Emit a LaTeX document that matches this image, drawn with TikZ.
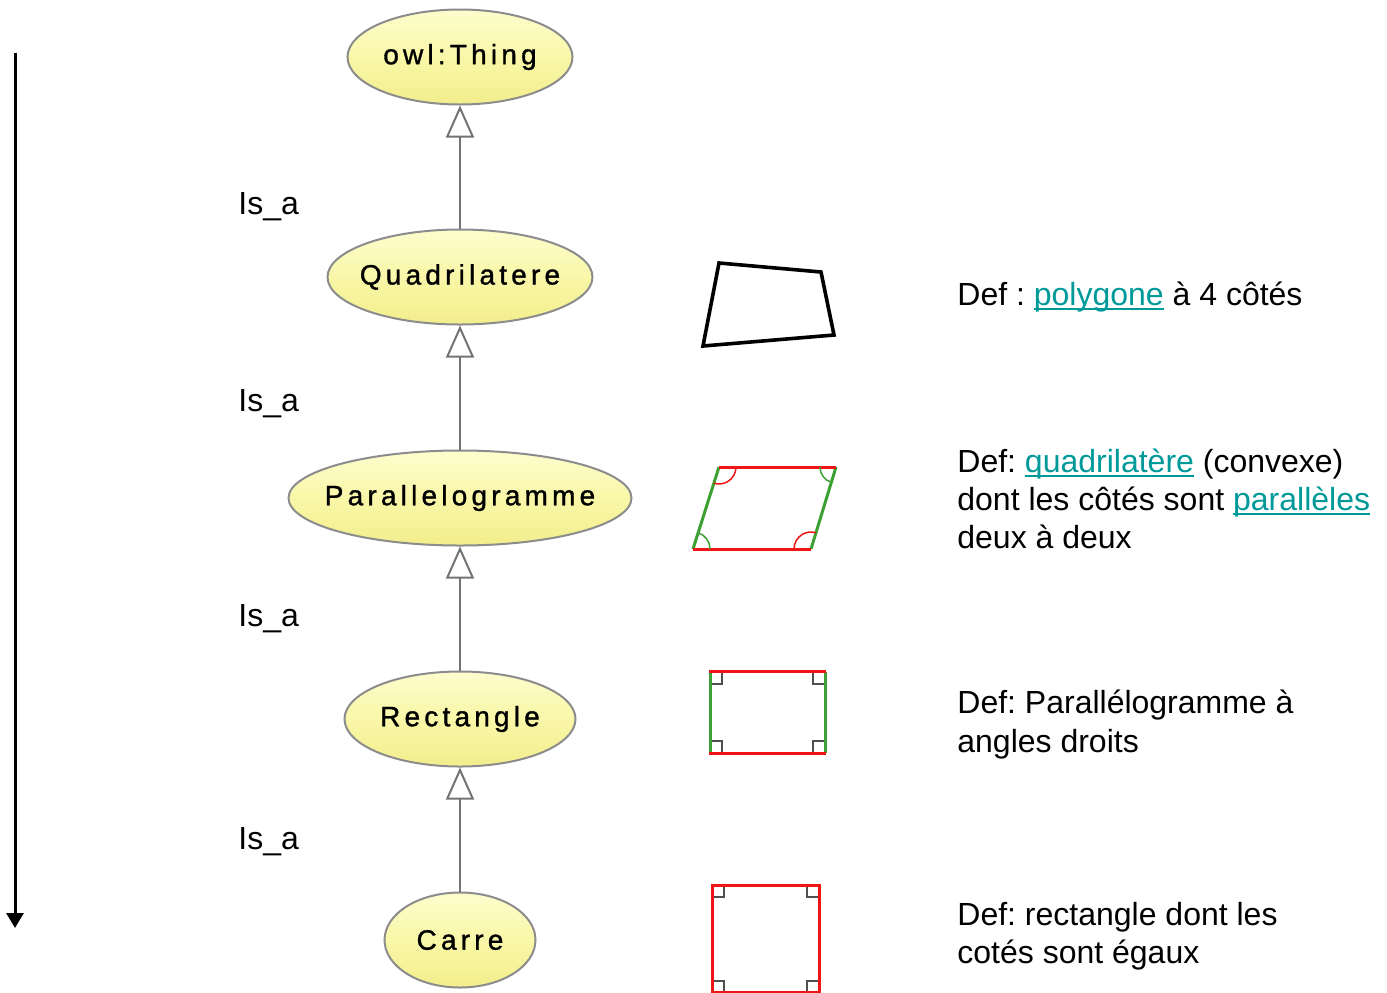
\documentclass[tikz,border=0pt]{standalone}
\usepackage{fontspec}
\setmainfont{Liberation Sans}
\newfontfamily\classfont[LetterSpace=15,FakeBold=1.2]{Liberation Sans}
\usetikzlibrary{arrows.meta,shapes.geometric}

\definecolor{linkteal}{RGB}{0,153,153}
\definecolor{classedge}{RGB}{140,140,140}
\definecolor{isaline}{RGB}{115,115,115}
\definecolor{figgreen}{RGB}{60,160,50}
\definecolor{figred}{RGB}{240,20,20}
\definecolor{markgray}{RGB}{80,80,80}

% underlined hyperlink-looking word
\newcommand\deflink[1]{\setbox0\hbox{#1}\rlap{\color{linkteal}\rule[-2.2pt]{\wd0}{0.9pt}}\textcolor{linkteal}{#1}}
% class name that does not widen its ellipse
\newcommand\cname[1]{\raisebox{-1pt}{\makebox[0pt]{#1}}}

\tikzset{
  owlclass/.style={ellipse, draw=classedge, line width=1pt, inner sep=0pt,
    minimum height=47.5pt, top color={rgb,255:red,253;green,253;blue,206},
    bottom color={rgb,255:red,242;green,238;blue,140},
    middle color={rgb,255:red,249;green,247;blue,168},
    font=\classfont\fontsize{14pt}{16pt}\selectfont},
  isa/.style={draw=isaline, line width=1pt,
    -{Triangle[open, length=16pt, width=14pt]}},
  textline/.style={anchor=base west, inner sep=0pt,
    font=\fontsize{16pt}{19pt}\selectfont},
  outline/.style={line width=1.5pt},
  anglemark/.style={line width=0.75pt},
  rightmark/.style={draw=markgray, line width=0.75pt},
}

\begin{document}
\frenchspacing
\begin{tikzpicture}[x=0.5pt,y=-0.5pt]
\useasboundingbox (0,0) rectangle (1387,992);

% hierarchy axis
\coordinate (axtop) at (15,53);
\coordinate (axbot) at (15,928);
\draw[line width=1.5pt, -{Triangle[length=7.5pt, width=8.5pt]}] (axtop) -- (axbot);

% classes
\node[owlclass, minimum width=112.5pt] (thing) at (460,57) {\cname{owl:Thing}};
\node[owlclass, minimum width=132.5pt] (quad) at (460,277) {\cname{Quadrilatere}};
\node[owlclass, minimum width=171.5pt] (para) at (460,498) {\cname{Parallelogramme}};
\node[owlclass, minimum width=115.5pt] (rect) at (460,719) {\cname{Rectangle}};
\node[owlclass, minimum width=75.5pt] (carre) at (460,940) {\cname{Carre}};

% subclass links
\draw[isa] (quad.north) -- (thing.south);
\draw[isa] (para.north) -- (quad.south);
\draw[isa] (rect.north) -- (para.south);
\draw[isa] (carre.north) -- (rect.south);

% relation labels
\node[textline] (isa1) at (238,214.5) {Is\_a};
\node[textline] (isa2) at (238,411.5) {Is\_a};
\node[textline] (isa3) at (238,626.5) {Is\_a};
\node[textline] (isa4) at (238,849.5) {Is\_a};

% quadrilateral
\draw[line width=1.8pt, line join=miter] (719,263) -- (821,272) -- (834,335) -- (703,346) -- cycle;

% parallelogram
\coordinate (pTL) at (719,467);
\coordinate (pTR) at (836,467);
\coordinate (pBL) at (693,549);
\coordinate (pBR) at (811,549);
\draw[outline, figgreen] (pBL) -- (pTL);
\draw[outline, figgreen] (pBR) -- (pTR);
\draw[outline, figred] (pTL) -- (pTR);
\draw[outline, figred] (pBL) -- (pBR);
\draw[anglemark, figred] (pTL) ++(17,0) arc[start angle=0, end angle=107.6, radius=17];
\draw[anglemark, figgreen] (pTR) ++(-16,0) arc[start angle=180, end angle=107, radius=16];
\draw[anglemark, figgreen] (pBL) ++(17,0) arc[start angle=0, end angle=-72.4, radius=17];
\draw[anglemark, figred] (pBR) ++(-17,0) arc[start angle=-180, end angle=-73, radius=17];

% rectangle
\draw[rightmark] (710,684) -| (722,671.5);
\draw[rightmark] (825,684) -| (813,671.5);
\draw[rightmark] (710,741) -| (722,753);
\draw[rightmark] (825,741) -| (813,753);
\draw[outline, figgreen] (710,671.5) -- (710,753);
\draw[outline, figgreen] (825,671.5) -- (825,753);
\draw[outline, figred] (709.3,671.5) -- (825.7,671.5);
\draw[outline, figred] (709.3,753) -- (825.7,753);

% square
\draw[rightmark] (712,897) -| (724,885);
\draw[rightmark] (819,897) -| (807,885);
\draw[rightmark] (712,981) -| (724,992);
\draw[rightmark] (819,981) -| (807,992);
\draw[outline, figred] (712,885) rectangle (819,992);

% definitions
\node[textline] (def1) at (957,305.5) {Def : \deflink{polygone} à 4 côtés};
\node[textline] (def2a) at (957,472.5) {Def: \deflink{quadrilatère} (convexe)};
\node[textline] (def2b) at (957,510.5) {dont les côtés sont \deflink{parallèles}};
\node[textline] (def2c) at (957,548.5) {deux à deux};
\node[textline] (def3a) at (957,713.5) {Def: Parallélogramme à};
\node[textline] (def3b) at (957,752.5) {angles droits};
\node[textline] (def4a) at (957,925.5) {Def: rectangle dont les};
\node[textline] (def4b) at (957,963.5) {cotés sont égaux};
\end{tikzpicture}
\end{document}
